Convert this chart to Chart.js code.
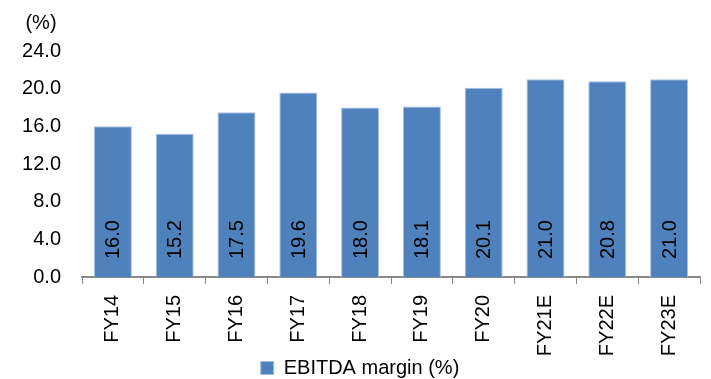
<!DOCTYPE html>
<html lang="en">
<head>
    <meta charset="UTF-8">
    <title>EBITDA margin</title>
    <style>
        html, body { margin: 0; padding: 0; background: #fff; }
        #chart-container { width: 711px; height: 379px; }
    </style>
</head>
<body>
    <div id="chart-container">
        <canvas id="margin-chart" width="711" height="379"></canvas>
    </div>

    <script src="https://cdn.jsdelivr.net/npm/chart.js"></script>

    <script>
        // дані з картинки
        const years = ['FY14', 'FY15', 'FY16', 'FY17', 'FY18', 'FY19', 'FY20', 'FY21E', 'FY22E', 'FY23E'];
        const ebitdaMargin = [16.0, 15.2, 17.5, 19.6, 18.0, 18.1, 20.1, 21.0, 20.8, 21.0];
        const yTicks = [0, 4, 8, 12, 16, 20, 24];
        const seriesName = 'EBITDA margin (%)';
        const unitLabel = '(%)';

        const FONT = "'Liberation Sans', Arial, sans-serif";

        // підписи значень всередині стовпців + "(%)" над віссю
        const labelsPlugin = {
            id: 'barLabels',
            afterDatasetsDraw(chart) {
                const ctx = chart.ctx;
                const yScale = chart.scales.y;
                const base = yScale.getPixelForValue(0);
                const meta = chart.getDatasetMeta(0);
                ctx.save();
                ctx.fillStyle = '#000';
                ctx.font = '20px ' + FONT;
                meta.data.forEach((bar, i) => {
                    ctx.save();
                    ctx.translate(bar.x, base - 18);
                    ctx.rotate(-Math.PI / 2);
                    ctx.textAlign = 'left';
                    ctx.textBaseline = 'middle';
                    ctx.fillText(ebitdaMargin[i].toFixed(1), 0, 1);
                    ctx.restore();
                });
                ctx.font = '20px ' + FONT;
                ctx.textAlign = 'center';
                ctx.textBaseline = 'middle';
                ctx.fillText(unitLabel, 41, 23);
                ctx.restore();
            }
        };

        const ctx = document.getElementById('margin-chart').getContext('2d');
        const chart = new Chart(ctx, {
            type: 'bar',
            data: {
                labels: years,
                datasets: [{
                    label: seriesName,
                    data: ebitdaMargin,
                    backgroundColor: '#4F81BD',
                    borderColor: '#A9C1DF',
                    borderWidth: 1,
                    barPercentage: 0.615,
                    categoryPercentage: 1.0
                }]
            },
            options: {
                responsive: false,
                animation: false,
                devicePixelRatio: 1,
                layout: { padding: { top: 51, right: 11, bottom: -9, left: 20 } },
                plugins: {
                    legend: {
                        position: 'bottom',
                        labels: {
                            boxWidth: 13,
                            boxHeight: 13,
                            color: '#000',
                            font: { family: FONT, size: 20 },
                            padding: 0
                        }
                    },
                    tooltip: { enabled: false }
                },
                scales: {
                    x: {
                        grid: {
                            offset: true,
                            drawOnChartArea: false,
                            drawTicks: true,
                            tickLength: 7,
                            color: '#888'
                        },
                        border: { display: true, color: '#888', width: 2 },
                        ticks: {
                            color: '#000',
                            font: { family: FONT, size: 20 },
                            minRotation: 90,
                            maxRotation: 90,
                            padding: 11
                        },
                        afterFit(scale) { scale.height = 81; }
                    },
                    y: {
                        min: 0,
                        max: 24,
                        afterBuildTicks(scale) {
                            scale.ticks = yTicks.map(v => ({ value: v }));
                        },
                        grid: { display: false, drawTicks: false },
                        border: { display: false },
                        ticks: {
                            color: '#000',
                            font: { family: FONT, size: 20 },
                            padding: 21,
                            callback: (v) => Number(v).toFixed(1)
                        },
                        afterFit(scale) { scale.width = 62; }
                    }
                }
            },
            plugins: [labelsPlugin]
        });
    </script>
</body>
</html>
